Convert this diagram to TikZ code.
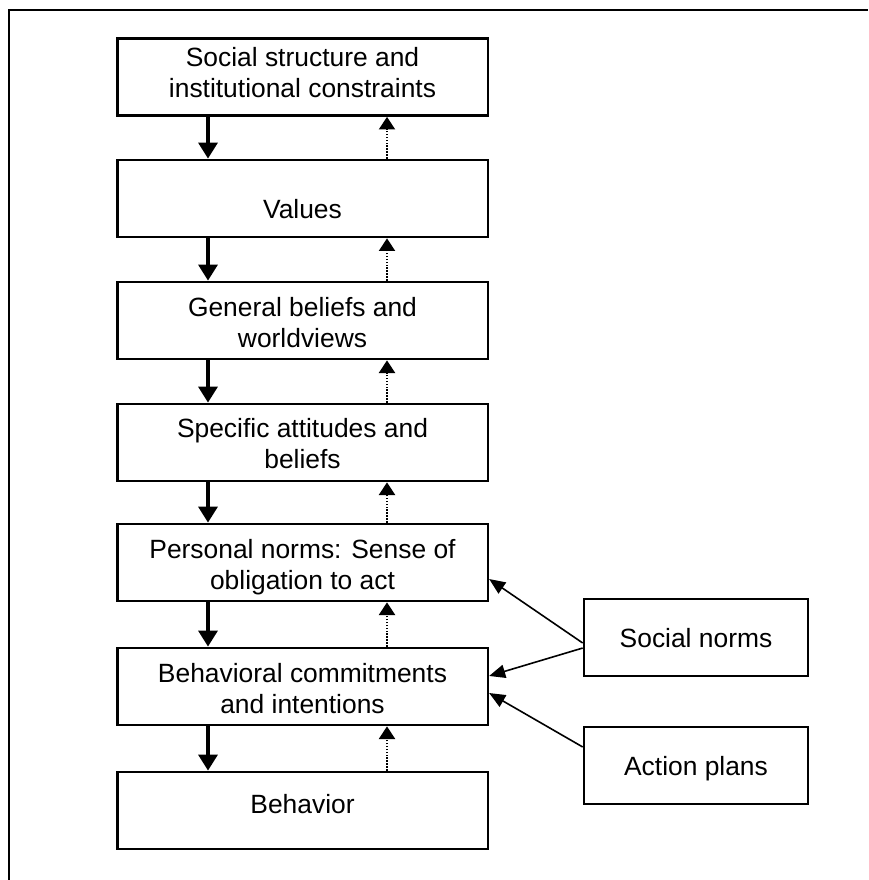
\documentclass[tikz,border=0pt]{standalone}
\usepackage{fontspec}
\setmainfont{Liberation Sans}
\usetikzlibrary{arrows.meta}

\begin{document}
\begin{tikzpicture}[x=0.75pt,y=-0.75pt,
  box/.style={draw, line width=2pt, rectangle, inner sep=0pt,
    minimum width=278pt, minimum height=57.75pt},
  sidebox/.style={box, minimum width=168pt},
  txt/.style={align=center, inner sep=0pt, anchor=base,
    font=\fontsize{19.8pt}{23.25pt}\selectfont},
  down/.style={line width=3.5pt, -{Triangle[width=14pt,length=12pt]}},
  up/.style={line width=1.5pt, dash pattern=on 1.1pt off 1.1pt,
    -{Triangle[width=12pt,length=9.5pt]}},
  feed/.style={line width=1.2pt, -{Triangle[width=10pt,length=12pt]}}]

  \useasboundingbox (0,0) rectangle (868,880);

  % frame (only its top and left sides fall inside the page)
  \draw[line width=1.5pt] (9,880) -- (9,10) -- (868,10);

  % main chain of boxes
  \node[box] (ss) at (302.5,77)    {};
  \node[box] (va) at (302.5,198.5) {};
  \node[box] (gb) at (302.5,320.5) {};
  \node[box] (sa) at (302.5,442.5) {};
  \node[box] (pn) at (302.5,562.5) {};
  \node[box] (bc) at (302.5,686.5) {};
  \node[box] (be) at (302.5,810.5) {};

  % side boxes
  \node[sidebox] (sn) at (696,637.5) {};
  \node[sidebox] (ap) at (696,765.5) {};

  % box texts (base anchor = last line's baseline)
  \node[txt] (ss-t) at (302.5,98)  {Social structure and\\institutional constraints};
  \node[txt] (va-t) at (302.5,219) {Values};
  \node[txt] (gb-t) at (302.5,347) {General beliefs and\\worldviews};
  \node[txt] (sa-t) at (302.5,468) {Specific attitudes and\\beliefs};
  \node[txt] (pn-t) at (302.5,589) {Personal norms: Sense of\\obligation to act};
  \node[txt] (bc-t) at (302.5,713) {Behavioral commitments\\and intentions};
  \node[txt] (be-t) at (302.5,813) {Behavior};
  \node[txt] (sn-t) at (696,647)   {Social norms};
  \node[txt] (ap-t) at (696,775)   {Action plans};

  % causal chain downwards (solid) and feedback upwards (dotted)
  \foreach \a/\b in {ss/va, va/gb, gb/sa, sa/pn, pn/bc, bc/be} {
    \draw[down] (\a.south -| 208,0) -- (\b.north -| 208,0);
    \draw[up]   (\b.north -| 387,0) -- (\a.south -| 387,0);
  }

  % external influences
  \draw[feed] ([yshift=-4.1pt]sn.west) -- ([yshift=-12.4pt]pn.east);
  \draw[feed] ([yshift=-7.9pt]sn.west) -- ([yshift=7.9pt]bc.east);
  \draw[feed] ([yshift=13.9pt]ap.west) -- ([yshift=-4.9pt]bc.east);
\end{tikzpicture}
\end{document}
